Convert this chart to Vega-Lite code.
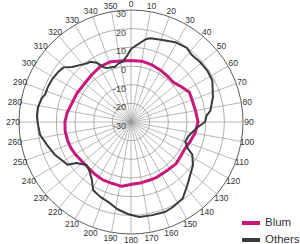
{
  "$schema": "https://vega.github.io/schema/vega-lite/v6.json",
  "width": 300,
  "height": 244,
  "autosize": {"type": "none"},
  "padding": 0,
  "background": "white",
  "config": {"view": {"stroke": null}, "font": "Liberation Sans"},
  "datasets": {
    "rings": [{"ring": -20}, {"ring": -10}, {"ring": 0}, {"ring": 10}, {"ring": 20}, {"ring": 30}],
    "ringlabels": [{"ring": -30}, {"ring": -20}, {"ring": -10}, {"ring": 0}, {"ring": 10}, {"ring": 20}, {"ring": 30}],
    "angles": [{"angle": 0}, {"angle": 10}, {"angle": 20}, {"angle": 30}, {"angle": 40}, {"angle": 50}, {"angle": 60}, {"angle": 70}, {"angle": 80}, {"angle": 90}, {"angle": 100}, {"angle": 110}, {"angle": 120}, {"angle": 130}, {"angle": 140}, {"angle": 150}, {"angle": 160}, {"angle": 170}, {"angle": 180}, {"angle": 190}, {"angle": 200}, {"angle": 210}, {"angle": 220}, {"angle": 230}, {"angle": 240}, {"angle": 250}, {"angle": 260}, {"angle": 270}, {"angle": 280}, {"angle": 290}, {"angle": 300}, {"angle": 310}, {"angle": 320}, {"angle": 330}, {"angle": 340}, {"angle": 350}],
    "curves": [
      {"series": "Blum", "angle": 0, "dB": 3.0}, {"series": "Blum", "angle": 10, "dB": 3.1}, {"series": "Blum", "angle": 20, "dB": 2.6}, {"series": "Blum", "angle": 30, "dB": 1.9}, {"series": "Blum", "angle": 40, "dB": 1.3}, {"series": "Blum", "angle": 47, "dB": 1.1}, {"series": "Blum", "angle": 55, "dB": 2.9}, {"series": "Blum", "angle": 63, "dB": 5.1}, {"series": "Blum", "angle": 70, "dB": 4.8}, {"series": "Blum", "angle": 80, "dB": 5.1}, {"series": "Blum", "angle": 90, "dB": 5.9}, {"series": "Blum", "angle": 100, "dB": 4.8}, {"series": "Blum", "angle": 108, "dB": 3.4}, {"series": "Blum", "angle": 117, "dB": 2.2}, {"series": "Blum", "angle": 126, "dB": 2.4}, {"series": "Blum", "angle": 133, "dB": 2.9}, {"series": "Blum", "angle": 142, "dB": 2.4}, {"series": "Blum", "angle": 155, "dB": 2.7}, {"series": "Blum", "angle": 162, "dB": 2.7}, {"series": "Blum", "angle": 170, "dB": 3.0}, {"series": "Blum", "angle": 178, "dB": 3.2}, {"series": "Blum", "angle": 188, "dB": 4.8}, {"series": "Blum", "angle": 198, "dB": 4.4}, {"series": "Blum", "angle": 206, "dB": 4.5}, {"series": "Blum", "angle": 215, "dB": 4.0}, {"series": "Blum", "angle": 224, "dB": 3.5}, {"series": "Blum", "angle": 232, "dB": 3.7}, {"series": "Blum", "angle": 240, "dB": 4.5}, {"series": "Blum", "angle": 247, "dB": 5.1}, {"series": "Blum", "angle": 254, "dB": 5.4}, {"series": "Blum", "angle": 262, "dB": 5.6}, {"series": "Blum", "angle": 270, "dB": 5.4}, {"series": "Blum", "angle": 278, "dB": 4.6}, {"series": "Blum", "angle": 288, "dB": 3.2}, {"series": "Blum", "angle": 298, "dB": 2.8}, {"series": "Blum", "angle": 310, "dB": 2.3}, {"series": "Blum", "angle": 320, "dB": 2.9}, {"series": "Blum", "angle": 331, "dB": 4.0}, {"series": "Blum", "angle": 341, "dB": 4.1}, {"series": "Blum", "angle": 350, "dB": 3.2}, {"series": "Blum", "angle": 360, "dB": 3.0},
      {"series": "Others", "angle": 0, "dB": 9.1}, {"series": "Others", "angle": 4, "dB": 11.2}, {"series": "Others", "angle": 7, "dB": 12.9}, {"series": "Others", "angle": 10, "dB": 15.0}, {"series": "Others", "angle": 13, "dB": 16.1}, {"series": "Others", "angle": 20, "dB": 16.9}, {"series": "Others", "angle": 29, "dB": 18.9}, {"series": "Others", "angle": 37, "dB": 19.7}, {"series": "Others", "angle": 42, "dB": 18.5}, {"series": "Others", "angle": 49, "dB": 19.0}, {"series": "Others", "angle": 56, "dB": 19.3}, {"series": "Others", "angle": 63, "dB": 18.9}, {"series": "Others", "angle": 73, "dB": 15.9}, {"series": "Others", "angle": 82, "dB": 12.9}, {"series": "Others", "angle": 85, "dB": 10.7}, {"series": "Others", "angle": 90, "dB": 9.6}, {"series": "Others", "angle": 95, "dB": 5.5}, {"series": "Others", "angle": 104, "dB": 1.6}, {"series": "Others", "angle": 110, "dB": 0.9}, {"series": "Others", "angle": 115, "dB": 3.6}, {"series": "Others", "angle": 118, "dB": 7.2}, {"series": "Others", "angle": 125, "dB": 10.5}, {"series": "Others", "angle": 128, "dB": 11.3}, {"series": "Others", "angle": 138, "dB": 15.2}, {"series": "Others", "angle": 146, "dB": 19.5}, {"series": "Others", "angle": 154, "dB": 20.8}, {"series": "Others", "angle": 159, "dB": 21.5}, {"series": "Others", "angle": 167, "dB": 21.2}, {"series": "Others", "angle": 175, "dB": 21.1}, {"series": "Others", "angle": 182, "dB": 19.3}, {"series": "Others", "angle": 189, "dB": 17.2}, {"series": "Others", "angle": 196, "dB": 14.5}, {"series": "Others", "angle": 202, "dB": 13.4}, {"series": "Others", "angle": 209, "dB": 11.8}, {"series": "Others", "angle": 214, "dB": 7.5}, {"series": "Others", "angle": 220, "dB": 4.5}, {"series": "Others", "angle": 226, "dB": 3.1}, {"series": "Others", "angle": 233, "dB": 6.5}, {"series": "Others", "angle": 236, "dB": 11.0}, {"series": "Others", "angle": 241, "dB": 12.3}, {"series": "Others", "angle": 247, "dB": 14.5}, {"series": "Others", "angle": 255, "dB": 16.7}, {"series": "Others", "angle": 262, "dB": 19.2}, {"series": "Others", "angle": 270, "dB": 20.1}, {"series": "Others", "angle": 274, "dB": 20.5}, {"series": "Others", "angle": 279, "dB": 20.5}, {"series": "Others", "angle": 285, "dB": 19.4}, {"series": "Others", "angle": 288, "dB": 18.3}, {"series": "Others", "angle": 293, "dB": 18.3}, {"series": "Others", "angle": 299, "dB": 18.0}, {"series": "Others", "angle": 304, "dB": 17.4}, {"series": "Others", "angle": 309, "dB": 16.5}, {"series": "Others", "angle": 313, "dB": 13.2}, {"series": "Others", "angle": 318, "dB": 11.0}, {"series": "Others", "angle": 324, "dB": 9.1}, {"series": "Others", "angle": 326, "dB": 9.0}, {"series": "Others", "angle": 330, "dB": 6.7}, {"series": "Others", "angle": 333, "dB": 3.1}, {"series": "Others", "angle": 336, "dB": 1.6}, {"series": "Others", "angle": 339, "dB": 1.3}, {"series": "Others", "angle": 344, "dB": 0.8}, {"series": "Others", "angle": 348, "dB": 2.1}, {"series": "Others", "angle": 352, "dB": 2.5}, {"series": "Others", "angle": 357, "dB": 5.9}, {"series": "Others", "angle": 360, "dB": 9.1}
    ]
  },
  "layer": [
    {
      "data": {"name": "rings"},
      "transform": [{"calculate": "datum.ring + 30", "as": "rr"}],
      "mark": {"type": "point", "shape": "circle", "filled": false, "opacity": 1, "strokeWidth": 0.8},
      "encoding": {
        "x": {"datum": 0, "type": "quantitative", "scale": {"domain": [-131, 169]}, "axis": null},
        "y": {"datum": 0, "type": "quantitative", "scale": {"domain": [-122, 122]}, "axis": null},
        "size": {"field": "rr", "type": "quantitative", "scale": {"type": "pow", "exponent": 2, "domain": [0, 60], "range": [0, 50176], "zero": true}, "legend": null},
        "stroke": {"condition": {"test": "datum.ring == 30", "value": "#333333"}, "value": "#9a9a9a"}
      }
    },
    {
      "data": {"name": "angles"},
      "transform": [
        {"calculate": "112*sin(datum.angle*PI/180)", "as": "sx"},
        {"calculate": "112*cos(datum.angle*PI/180)", "as": "sy"}
      ],
      "mark": {"type": "rule", "stroke": "#9a9a9a", "strokeWidth": 0.7},
      "encoding": {
        "x": {"field": "sx", "type": "quantitative", "scale": {"domain": [-131, 169]}, "axis": null},
        "y": {"field": "sy", "type": "quantitative", "scale": {"domain": [-122, 122]}, "axis": null},
        "x2": {"datum": 0},
        "y2": {"datum": 0}
      }
    },
    {
      "data": {"name": "angles"},
      "transform": [
        {"calculate": "118*sin(datum.angle*PI/180)", "as": "lx"},
        {"calculate": "118*cos(datum.angle*PI/180)", "as": "ly"}
      ],
      "mark": {"type": "text", "fontSize": 8.5, "fill": "#333333", "align": "center", "baseline": "middle"},
      "encoding": {
        "x": {"field": "lx", "type": "quantitative", "scale": {"domain": [-131, 169]}, "axis": null},
        "y": {"field": "ly", "type": "quantitative", "scale": {"domain": [-122, 122]}, "axis": null},
        "text": {"field": "angle", "type": "nominal"}
      }
    },
    {
      "data": {"name": "ringlabels"},
      "transform": [
        {"calculate": "(datum.ring+30)*112/60", "as": "ry"},
        {"calculate": "0", "as": "zx"}
      ],
      "mark": {"type": "text", "fontSize": 9, "fill": "#444444", "align": "right", "baseline": "middle", "dx": -5, "dy": 4},
      "encoding": {
        "x": {"field": "zx", "type": "quantitative", "scale": {"domain": [-131, 169]}, "axis": null},
        "y": {"field": "ry", "type": "quantitative", "scale": {"domain": [-122, 122]}, "axis": null},
        "text": {"field": "ring", "type": "nominal"}
      }
    },
    {
      "data": {"name": "curves"},
      "transform": [
        {"calculate": "(datum.dB+30)*112/60", "as": "rp"},
        {"calculate": "datum.rp*sin(datum.angle*PI/180)", "as": "px"},
        {"calculate": "datum.rp*cos(datum.angle*PI/180)", "as": "py"}
      ],
      "mark": {"type": "line", "strokeJoin": "round"},
      "encoding": {
        "x": {"field": "px", "type": "quantitative", "scale": {"domain": [-131, 169]}, "axis": null},
        "y": {"field": "py", "type": "quantitative", "scale": {"domain": [-122, 122]}, "axis": null},
        "order": {"field": "angle", "type": "quantitative"},
        "color": {
          "field": "series", "type": "nominal",
          "scale": {"domain": ["Blum", "Others"], "range": ["#c8187a", "#343c42"]},
          "legend": {
            "title": null, "orient": "none", "legendX": 244.5, "legendY": 216.5,
            "symbolType": "M-2,0H2", "symbolSize": 81, "symbolStrokeWidth": 4,
            "labelFontSize": 11.5, "labelColor": "#333333", "labelOffset": 7.5, "padding": 0, "rowPadding": 0
          }
        },
        "strokeWidth": {"condition": {"test": "datum.series == 'Blum'", "value": 3}, "value": 2}
      }
    }
  ]
}
